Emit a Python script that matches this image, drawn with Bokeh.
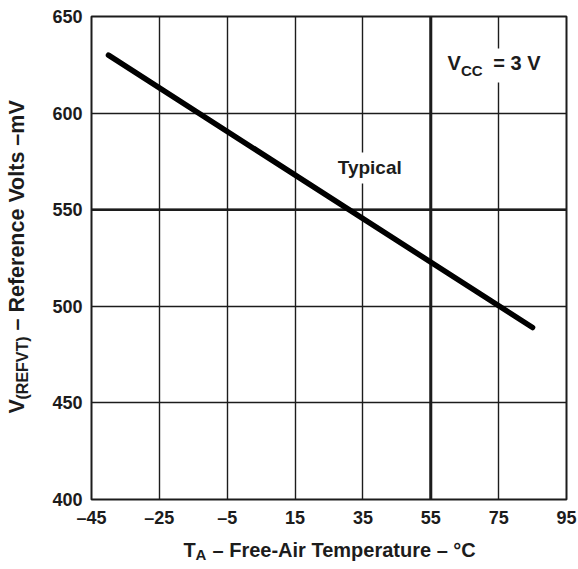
from math import pi
from bokeh.plotting import figure
from bokeh.layouts import row, column
from bokeh.models import FixedTicker, Span, Label, BoxAnnotation
from bokeh.embed import file_html
from bokeh.resources import INLINE

# ---- data ----
temp_c = [-40, 85]
v_refvt_mv = [630, 489]

x_ticks = [-45, -25, -5, 15, 35, 55, 75, 95]
x_tick_labels = ["–45", "–25", "–5", "15", "35", "55", "75", "95"]
y_ticks = [400, 450, 500, 550, 600, 650]
y_tick_labels = ["400", "450", "500", "550", "600", "650"]
bold_x_grid = [55]
bold_y_grid = [550]

FONT = "Liberation Sans"
INK = "#1c1c1c"


def text_label(fig, x, y, text, size, angle=0.0, units="screen", align="left"):
    fig.add_layout(Label(x=x, y=y, x_units=units, y_units=units, text=text,
                         angle=angle, text_font=FONT, text_font_style="bold",
                         text_font_size=f"{size}px", text_color=INK,
                         text_align=align, text_baseline="middle"))


def blank_figure(w, h):
    f = figure(width=w, height=h, x_range=(0, 1), y_range=(0, 1),
               x_axis_location=None, y_axis_location=None,
               toolbar_location=None, output_backend="svg", min_border=0)
    f.outline_line_color = None
    f.grid.visible = False
    f.background_fill_color = "white"
    f.border_fill_color = "white"
    return f


# ---- main chart ----
p = figure(frame_width=475, frame_height=483,
           x_range=(-45, 95), y_range=(400, 650),
           output_backend="svg", toolbar_location=None,
           min_border_left=51, min_border_right=12,
           min_border_top=16, min_border_bottom=36)
p.background_fill_color = "white"
p.border_fill_color = "white"
p.outline_line_color = INK
p.outline_line_width = 2

p.xaxis.ticker = FixedTicker(ticks=x_ticks)
p.yaxis.ticker = FixedTicker(ticks=y_ticks)
p.xaxis.major_label_overrides = {t: l for t, l in zip(x_ticks, x_tick_labels)}
p.yaxis.major_label_overrides = {t: l for t, l in zip(y_ticks, y_tick_labels)}
for ax in (p.xaxis, p.yaxis):
    ax.axis_line_color = None
    ax.major_tick_line_color = None
    ax.minor_tick_line_color = None
    ax.major_tick_in = 0
    ax.major_tick_out = 0
    ax.major_label_text_font = FONT
    ax.major_label_text_font_style = "bold"
    ax.major_label_text_font_size = "18px"
    ax.major_label_text_color = INK
p.xaxis.major_label_standoff = 8
p.yaxis.major_label_standoff = 9

p.xgrid.ticker = FixedTicker(ticks=x_ticks)
p.ygrid.ticker = FixedTicker(ticks=y_ticks)
for g in (p.xgrid, p.ygrid):
    g.grid_line_color = INK
    g.grid_line_width = 1.4
    g.grid_line_alpha = 1.0
for xv in bold_x_grid:
    p.add_layout(Span(location=xv, dimension="height", line_color=INK,
                      line_width=3, level="underlay"))
for yv in bold_y_grid:
    p.add_layout(Span(location=yv, dimension="width", line_color=INK,
                      line_width=2.6, level="underlay"))

# white boxes behind the in-plot notes
p.add_layout(BoxAnnotation(left=23.1, right=52.0, bottom=563.6, top=579.6,
                           fill_color="white", fill_alpha=1.0, line_color=None,
                           level="underlay"))
p.add_layout(BoxAnnotation(left=58.7, right=92.6, bottom=615.8, top=633.4,
                           fill_color="white", fill_alpha=1.0, line_color=None,
                           level="underlay"))

p.line(temp_c, v_refvt_mv, line_color="black", line_width=5.5, line_cap="round")

text_label(p, 37.0, 572.0, "Typical", 19, units="data", align="center")
text_label(p, 59.9, 625.7, "V", 20, units="data")
text_label(p, 63.9, 622.2, "CC", 15, units="data")
text_label(p, 73.4, 625.7, "= 3 V", 20, units="data")

# ---- y-axis title (left strip) ----
fy = blank_figure(40, 535)
text_label(fy, 16, 86, "V", 21.5, angle=pi / 2)
text_label(fy, 22, 100, "(REFVT)", 16, angle=pi / 2)
text_label(fy, 16, 169, "– Reference Volts –mV", 21.5, angle=pi / 2)

# ---- x-axis title (bottom strip) ----
fx = blank_figure(578, 34)
text_label(fx, 183, 20, "T", 20)
text_label(fx, 195, 15, "A", 15)
text_label(fx, 212, 20, "– Free-Air Temperature – °C", 20)

layout = column(row(fy, p, spacing=0), fx, spacing=0)

open("out.html", "w").write(file_html(layout, INLINE))
